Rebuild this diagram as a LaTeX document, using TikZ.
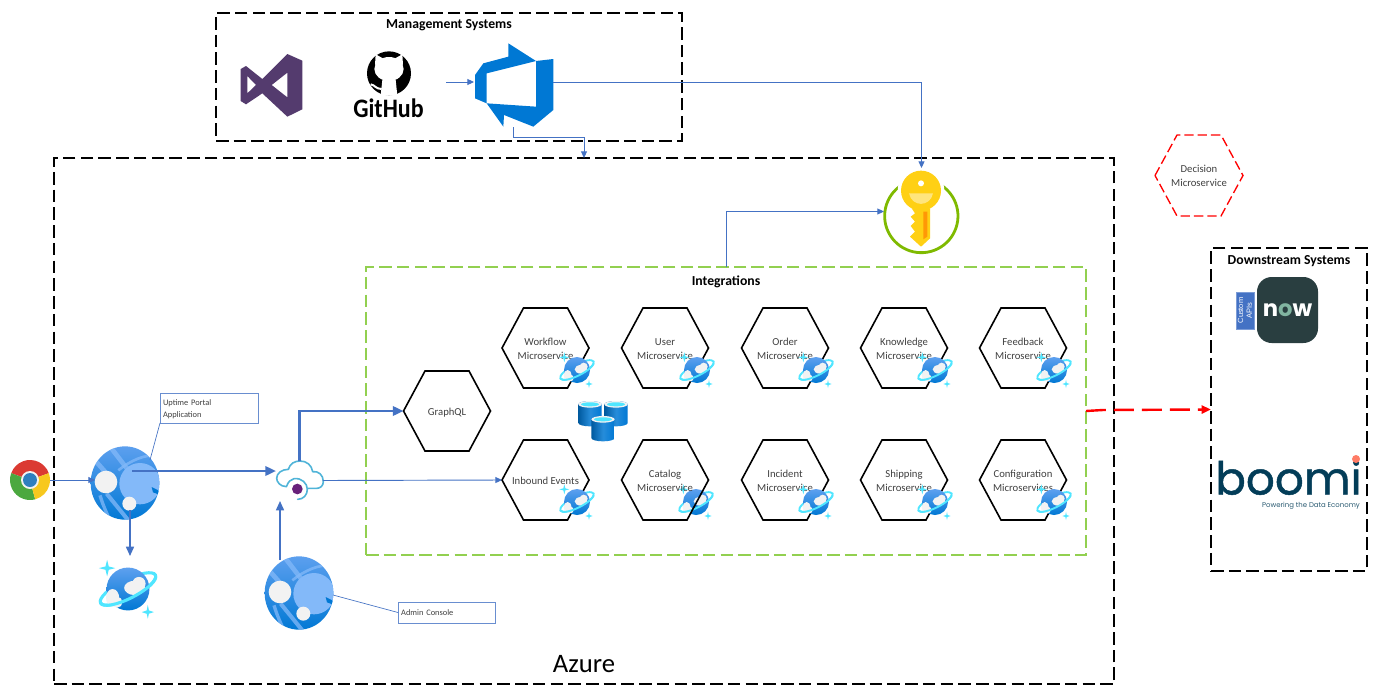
\documentclass[tikz,border=0pt]{standalone}
\usepackage{fontspec}
\setmainfont{Carlito}
\newfontfamily\popfont{Poppins}
\newfontfamily\boomifont[FakeBold=1]{Poppins}
\newfontfamily\libfont{Liberation Sans}
\usetikzlibrary{arrows.meta,calc}
\definecolor{linkblue}{HTML}{4472C4}
\definecolor{txtgray}{HTML}{404040}
\definecolor{igreen}{HTML}{92D050}
\definecolor{globelight}{HTML}{83B9F9}
\definecolor{globetop}{HTML}{5EA0EF}
\definecolor{globebot}{HTML}{0078D4}
\definecolor{cloudwhite}{HTML}{F2F2F2}
\definecolor{cyanring}{HTML}{50E6FF}
\definecolor{vspurple}{HTML}{543B6E}
\definecolor{adoblue}{HTML}{0078D4}
\definecolor{keygold}{HTML}{FFD014}
\definecolor{keygreen}{HTML}{7FBA00}
\definecolor{nowdark}{HTML}{293E40}
\definecolor{nowgreen}{HTML}{81B5A1}
\definecolor{boomiblue}{HTML}{033D58}
\definecolor{boomidot}{HTML}{FF7C66}
\definecolor{cloudline}{HTML}{50B4D8}
\definecolor{dotpurple}{HTML}{68217A}
\definecolor{chromered}{HTML}{DB3A32}
\definecolor{chromegreen}{HTML}{4BA83F}
\definecolor{chromeyellow}{HTML}{F7C81E}
\definecolor{chromeblue}{HTML}{2F7FBF}
\newcommand{\hexnode}[4]{%
  \node[hextext] (#1) at (#2,#3) {\rule{0pt}{7.5pt}#4};
  \draw[hexline] (#1.west) -- (#2-22,#3-40) -- (#2+22,#3-40) -- (#1.east) -- (#2+22,#3+40) -- (#2-22,#3+40) -- cycle;}
\tikzset{
  x=.75pt,y=-.75pt,
  frameblack/.style={draw=black,line width=1.5pt,dash pattern=on 9.4pt off 3.9pt,minimum width=#1,outer sep=0pt,inner sep=0pt},
  framegreen/.style={draw=igreen,line width=1.15pt,dash pattern=on 9.4pt off 3.9pt,outer sep=0pt,inner sep=0pt},
  frametitle/.style={font=\fontsize{10.3}{12}\selectfont\bfseries,text=black,inner sep=0pt},
  hextext/.style={minimum width=65.25pt,minimum height=60pt,inner sep=0pt,outer sep=0pt,align=center,text=txtgray,font=\fontsize{8}{10.5}\selectfont},
  hexline/.style={draw=black,line width=1.2pt,line join=miter},
  hexred/.style={draw=red,line width=1pt,dash pattern=on 7pt off 3pt},
  iconbox/.style={inner sep=0pt,outer sep=0pt,draw=none},
  thinlink/.style={draw=linkblue,line width=.7pt,-{Triangle[length=5pt,width=4.5pt]}},
  midlink/.style={draw=linkblue,line width=1.2pt,-{Triangle[length=7pt,width=6pt]}},
  thicklink/.style={draw=linkblue,line width=1.8pt,-{Triangle[length=8pt,width=7pt]}},
  redlink/.style={draw=red,line width=1.8pt,dash pattern=on 15pt off 6pt,-{Triangle[length=7pt,width=6pt]}},
  calloutbox/.style={draw=linkblue!80!white,line width=.6pt,inner sep=0pt,outer sep=0pt,align=left,text=txtgray,font=\fontsize{6.3}{9}\selectfont},
  calloutline/.style={draw=linkblue,line width=.5pt},
  pics/webglobe/.style={code={
    \begin{scope}[x=.25pt,y=.25pt]
      \begin{scope}
        \clip (0,0) ellipse [x radius=103,y radius=110];
        \shade[top color=globetop,bottom color=globebot] (-110,-115) rectangle (110,115);
        \draw[globelight,line width=3.5pt,opacity=.75] (-40,103) -- (10,38);
        \draw[globelight,line width=2pt,opacity=.75] (-20,38) .. controls (20,70) and (60,85) .. (95,83);
        \draw[globelight,line width=3.5pt,opacity=.75] (-90,68) -- (-30,0);
        \draw[globelight,line width=3pt,opacity=.75] (-55,-32) -- (10,-112);
        \draw[globelight,line width=2.5pt,opacity=.75] (-75,-37) .. controls (-65,-70) and (-55,-90) .. (-45,-112);
        \fill[globelight] (45,-2) circle [radius=62];
        \fill[globebot] (80,-12) -- (100,-22) -- (106,-36) -- (84,-28) -- cycle;
      \end{scope}
      \fill[cloudwhite] (-57,3) circle [radius=34];
      \fill[cloudwhite] (13,-62) circle [radius=21];
    \end{scope}}},
  pics/cosmos/.style={code={
    \begin{scope}[x=#1*.25pt,y=#1*.25pt]
      \draw[cyanring,line width=#1*1.4pt,rotate=27] (0,0) ellipse [x radius=56,y radius=17];
      \shade[top color=globetop,bottom color=globebot] (0,0) circle [radius=39];
      \fill[cloudwhite] (12,2) ellipse [x radius=19,y radius=13];
      \fill[cloudwhite] (20,10) circle [radius=12];
      \fill[cloudwhite] (-28,-16) ellipse [x radius=12,y radius=16];
      \fill[cloudwhite] (-20,-24) circle [radius=10];
      \draw[cyanring,line width=#1*1.4pt,rotate=27] (-56,0) arc [start angle=180,end angle=345,x radius=56,y radius=17];
      \fill[cyanring] (-38,53) -- (-35,41) -- (-23,38) -- (-35,35) -- (-38,23) -- (-41,35) -- (-53,38) -- (-41,41) -- cycle;
      \fill[cyanring] (36,-29) -- (38,-39) -- (47,-42) -- (38,-45) -- (36,-54) -- (34,-45) -- (25,-42) -- (34,-39) -- cycle;
    \end{scope}}},
  pics/dbcyl/.style={code={
    \begin{scope}[x=.25pt,y=.25pt]
      \shade[left color=globebot!75!black,right color=globebot,middle color=globebot!85!white]
        (-35,26) -- (-35,-30) arc [start angle=180,end angle=360,x radius=35,y radius=10] -- (35,26) arc [start angle=0,end angle=180,x radius=35,y radius=10] -- cycle;
      \fill[cloudwhite] (0,26) ellipse [x radius=35,y radius=10];
      \fill[cyanring] (0,26) ellipse [x radius=27,y radius=6];
    \end{scope}}}
}
\begin{document}
\begin{tikzpicture}
\useasboundingbox (0,0) rectangle (1376,696);
\fill[white] (0,0) rectangle (1376,696);

% frames
\node[frameblack=349.5pt,minimum height=96pt] (mgmt) at (449,77) {};
\node[frameblack=795pt,minimum height=394.5pt] (azure) at (584,421) {};
\node[framegreen,minimum width=540pt,minimum height=216pt] (integ) at (726,411) {};
\node[frameblack=117pt,minimum height=242.25pt] (down) at (1289,409.5) {};
\node[frametitle] (mgmtT) at (449,25.5) {Management Systems};
\node[frametitle] (integT) at (726,281.5) {Integrations};
\node[frametitle] (downT) at (1289,261.5) {Downstream Systems};
\node[inner sep=0pt,font=\fontsize{20}{24}\selectfont,text=black] (azureT) at (584,664) {Azure};

% Visual Studio, octocat, DevOps
\node[iconbox,minimum width=46.5pt,minimum height=47pt] (vs) at (271,85) {};
\begin{scope}[shift={(210,5)},x=.25pt,y=-.25pt]
\fill[vspurple,even odd rule] (232,147) -- (277,167) -- (277,313) -- (232,335) -- (157,265) -- (108,298) -- (92,288) -- (92,192) -- (108,183) -- (157,222) -- cycle
  (232,203) -- (232,277) -- (185,240) -- cycle
  (112,213) -- (112,265) -- (138,240) -- cycle;
\fill[black] (537,205) circle [radius=66];
\fill[white] (537,192) ellipse [x radius=44,y radius=36];
\fill[white] (497,148) -- (524,163) -- (495,180) -- cycle;
\fill[white] (577,148) -- (550,163) -- (579,180) -- cycle;
\fill[white] (517,225) -- (557,225) -- (562,272) -- (512,272) -- cycle;
\draw[white,line width=1.5pt] (482,238) .. controls (495,240) and (497,252) .. (515,252);
\fill[adoblue] (895,115) -- (978,168) -- (830,205) -- (830,295) -- (795,280) -- (795,210) -- (820,175) -- (895,155) -- cycle;
\fill[adoblue] (978,168) -- (1030,162) -- (1030,315) -- (970,365) -- (882,330) -- (880,365) -- (830,295) -- (978,305) -- cycle;
\end{scope}
\node[iconbox,minimum width=85.5pt,minimum height=57pt] (github) at (389,82) {};
\node[inner sep=0pt,font=\fontsize{20}{24}\selectfont\bfseries,text=black,xscale=.9] (ghtext) at (388.5,108) {GitHub};
\node[iconbox,minimum width=59.25pt,minimum height=67.5pt] (devops) at (513.5,82) {};

% Key vault
\node[iconbox,minimum width=56.25pt,minimum height=62.25pt] (key) at (921.5,211.5) {};
\begin{scope}[shift={(921.3,216)},x=.25pt,y=.25pt]
\draw[keygreen,line width=2.1pt] (122:110) arc [start angle=122,end angle=418,radius=110];
\end{scope}
\begin{scope}[shift={(860,120)},x=.25pt,y=-.25pt]
\fill[white] (183,212) circle [radius=70];
\fill[keygold] (155,265) -- (210,265) -- (210,355) -- (183,380) -- (150,350) -- (165,335) -- (152,318) -- (165,305) -- (152,290) -- (165,280) -- cycle;
\fill[keygold] (183,212) circle [radius=60];
\fill[white] (183,190) circle [radius=9];
\fill[keygold!55!white] (147,220) .. controls (155,262) and (211,262) .. (219,220) -- cycle;
\fill[orange!70!keygold] (190,275) -- (202,275) -- (202,350) -- (190,358) -- cycle;
\end{scope}

% Decision hexagon
\node[hextext,minimum width=66pt,minimum height=60.75pt] (decision) at (1199,175.5) {Decision\\Microservice};
\draw[hexred] (decision.west) -- (1177,135) -- (1221,135) -- (decision.east) -- (1221,216) -- (1177,216) -- cycle;

% Web app globes, cosmos, cloud
\pic at (125,483) {webglobe};
\node[iconbox,minimum width=52pt,minimum height=55pt] (web1) at (125,483) {};
\pic at (299,593) {webglobe};
\node[iconbox,minimum width=52pt,minimum height=55pt] (web2) at (299,593) {};
\pic at (128,589) {cosmos=1.65};
\node[iconbox,minimum width=42pt,minimum height=42pt] (cosmosMain) at (128,589) {};

% Chrome
\node[iconbox,circle,minimum size=30pt] (chrome) at (30,480) {};
\begin{scope}[shift={(30,480)},x=.75pt,y=.75pt]
\fill[chromered] (0,0) -- (20:20) arc [start angle=20,end angle=160,radius=20] -- cycle;
\fill[chromegreen] (0,0) -- (160:20) arc [start angle=160,end angle=285,radius=20] -- cycle;
\fill[chromeyellow] (0,0) -- (285:20) arc [start angle=285,end angle=380,radius=20] -- cycle;
\fill[cloudwhite] (0,0) circle [radius=9];
\fill[chromeblue] (0,0) circle [radius=7];
\end{scope}

% Cloud gateway
\node[iconbox,minimum width=35pt,minimum height=29pt] (cloud) at (299.5,480.5) {};
\begin{scope}[shift={(0,380)},x=.25pt,y=-.25pt]
\draw[cloudline,line width=1.2pt,line cap=round]
  (860,320) .. controls (840,320) and (830,305) .. (830,295) .. controls (830,280) and (845,268) .. (865,268) .. controls (870,250) and (885,243) .. (900,243) .. controls (920,243) and (935,255) .. (938,275) .. controls (955,272) and (970,285) .. (970,305) .. controls (970,318) and (960,325) .. (950,325) -- (925,325);
\draw[cloudline,line width=1.2pt,line cap=round]
  (860,318) .. controls (865,305) and (872,298) .. (882,296) .. controls (905,293) and (922,310) .. (922,328) .. controls (922,345) and (910,358) .. (893,358);
\fill[dotpurple] (892,327) circle [radius=16];
\end{scope}

% Hexagons
\pic at (696,502) {cosmos=1};
\hexnode{graphql}{447}{411}{GraphQL}
\hexnode{workflow}{545.5}{348}{Workflow\\Microservice}
\hexnode{user}{665}{348}{User\\Microservice}
\hexnode{order}{785}{348}{Order\\Microservice}
\hexnode{knowledge}{904}{348}{Knowledge\\Microservice}
\hexnode{feedback}{1023}{348}{Feedback\\Microservice}
\hexnode{inbound}{545.5}{480}{Inbound Events}
\hexnode{catalog}{665}{480}{Catalog\\Microservice}
\hexnode{incident}{785}{480}{Incident\\Microservice}
\hexnode{shipping}{904}{480}{Shipping\\Microservice}
\hexnode{config}{1023}{480}{Configuration\\Microservices}
\foreach \cx/\cy in {577/370,697/370,816/370,935/370,1054/370,577/502,816/502,935/502,1054/502}{
  \pic at (\cx,\cy) {cosmos=1};
}

% Database cylinders
\pic at (590,413) {dbcyl};
\pic at (616,413) {dbcyl};
\pic at (603,428) {dbcyl};

% Callouts
\node[calloutbox,minimum width=73.5pt,minimum height=22.5pt,text width=69pt,inner xsep=2.25pt] (uptime) at (209,408) {\rule{0pt}{6.5pt}Uptime Portal\\Application};
\node[calloutbox,minimum width=72.75pt,minimum height=15.75pt,text width=68pt,inner xsep=2.25pt] (admin) at (446.5,612.5) {Admin Console};
\coordinate (upTail) at (150,460);
\coordinate (adTail) at (333,595);
\draw[calloutline] (uptime.south west) -- (upTail);
\draw[calloutline] (adTail) -- (admin.west);

% ServiceNow
\node[fill=linkblue,draw=linkblue!70!white,line width=.4pt,rotate=90,minimum width=27.5pt,minimum height=13.5pt,inner sep=0pt,align=center,text=white,font=\libfont\fontsize{5.6}{6.6}\selectfont] (apis) at (1245,310.5) {Custom\\APIs};
\node[fill=nowdark,rounded corners=11pt,minimum width=45.75pt,minimum height=49.5pt,inner sep=0pt,outer sep=0pt,font=\popfont\fontsize{17}{20}\selectfont\bfseries] (now) at (1287.5,310) {\textcolor{white}{n}\textcolor{nowgreen}{o}\textcolor{white}{w}};

% Boomi
\node[anchor=base,inner sep=0pt,text=boomiblue,font=\boomifont\fontsize{34}{36}\selectfont] (boomi) at (1288.5,494.5) {boomi};
\fill[boomidot] (1356,459) circle [radius=4];
\node[inner sep=0pt,text=boomiblue!85!white,font=\popfont\fontsize{5.2}{6}\selectfont] (boomiTag) at (1311,505.5) {Powering the Data Economy};

% Connectors
\coordinate (webIn) at (95,480);
\coordinate (webOut) at (132,471);
\coordinate (cloudIn) at (276,471);
\coordinate (webDown) at (130,510);
\coordinate (cosmosTop) at (130,556);
\coordinate (adminUp) at (280,560);
\coordinate (cloudBottom) at (280,501);
\draw[thinlink] (chrome.east) -- (webIn);
\draw[thicklink] (webOut) -- (cloudIn);
\draw[midlink] (webDown) -- (cosmosTop);
\draw[midlink] (adminUp) -- (cloudBottom);
\draw[thicklink] (cloud.north) |- (graphql.west);
\draw[thinlink] (cloud.east) -- (inbound.west);
\draw[thinlink] (github.east) -- (devops.west);
\draw[thinlink] (devops.east) -| ([yshift=1.5pt]key.north);
\draw[thinlink] (devops.south) -- ++(0,10) -| (azure.north);
\draw[thinlink] (integ.north) |- (key.west);
\draw[redlink] (integ.east) -- (1103,410) -- (down.west);
\end{tikzpicture}
\end{document}
